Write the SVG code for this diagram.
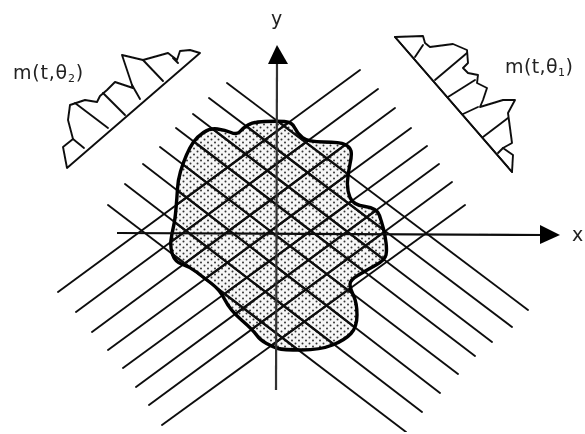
<svg xmlns="http://www.w3.org/2000/svg" width="585" height="434" viewBox="0 0 585 434">
<style>
.h{stroke:#111;stroke-width:1.9;fill:none;stroke-linecap:round}
.p{stroke:#111;stroke-width:1.9;fill:none;stroke-linejoin:round;stroke-linecap:round}
.t{font-family:"DejaVu Sans",Verdana,sans-serif;font-size:19px;fill:#222;letter-spacing:.8px}
.s{font-size:11px}
</style>
<defs>
<pattern id="dots" width="7" height="6" patternUnits="userSpaceOnUse">
<rect width="7" height="6" fill="#f6f6f6"/>
<circle cx="1.5" cy="1.5" r="1" fill="#333"/>
<circle cx="5" cy="4.5" r="1" fill="#333"/>
</pattern>
<path id="shape" d="M284.5 121.5Q292 122 294.5 127.5Q297 133 302.5 137.5Q308 142 324 142Q340 142 345 144.5Q350 147 351 151Q352 155 350 164Q348 173 347.5 181.5Q347 190 350 197.5Q353 205 365 206.5Q377 208 379.5 215.5Q382 223 383.5 229Q385 235 386 242.5Q387 250 386 255Q385 260 376 265Q367 270 358.5 275Q350 280 350 284Q350 288 353.5 295.5Q357 303 357 315Q357 327 351 333.5Q345 340 332.5 345Q320 350 301.5 350Q283 350 278 348.5Q273 347 266.5 343.5Q260 340 256.5 335Q253 330 241.5 320Q230 310 225 300Q220 290 211.5 283.5Q203 277 196.5 272Q190 267 182.5 264.5Q175 262 172.5 254.5Q170 247 171 240Q172 233 173.5 226.5Q175 220 176 208.5Q177 197 177.5 188.5Q178 180 180.5 171.5Q183 163 186.5 155Q190 147 193.5 142Q197 137 203.5 132.5Q210 128 217.5 129Q225 130 231 132.5Q237 135 240 131.5Q243 128 248 125Q253 122 265 121.5Q277 121 284.5 121.5Z"/>
<clipPath id="inside"><use href="#shape"/></clipPath>
<g id="scan">
<line x1="58" y1="292" x2="360" y2="70"/>
<line x1="76" y1="312" x2="378" y2="89"/>
<line x1="92" y1="332" x2="395" y2="108"/>
<line x1="108" y1="350" x2="411" y2="128"/>
<line x1="123" y1="368" x2="427" y2="146"/>
<line x1="136" y1="387" x2="439" y2="164"/>
<line x1="149" y1="405" x2="452" y2="182"/>
<line x1="162" y1="425" x2="465" y2="205"/>
<line x1="227" y1="83" x2="528" y2="310"/>
<line x1="209" y1="98" x2="512" y2="327"/>
<line x1="193" y1="114" x2="492" y2="342"/>
<line x1="176" y1="128" x2="475" y2="356"/>
<line x1="160" y1="147" x2="458" y2="374"/>
<line x1="143" y1="164" x2="440" y2="393"/>
<line x1="125" y1="184" x2="422" y2="412"/>
<line x1="108" y1="205" x2="406" y2="432"/>
</g>
<filter id="soft" x="0" y="0" width="1" height="1"><feGaussianBlur stdDeviation="0.6"/></filter>
</defs>
<rect width="585" height="434" fill="#fff"/>
<g filter="url(#soft)">
<use id="blob-fill" href="#shape" fill="url(#dots)"/>
<g id="connectors">
<use href="#scan" class="h"/>
<g clip-path="url(#inside)"><use href="#scan" class="h" style="stroke-width:2.3"/></g>
</g>
<use id="blob-outline" href="#shape" fill="none" stroke="#000" stroke-width="3.4" stroke-linejoin="round"/>
<g id="axes">
<line x1="117" y1="233" x2="545" y2="235" stroke="#111" stroke-width="2.2"/>
<polygon points="560,235 540,225 540,244" fill="#000"/>
<line x1="276" y1="390" x2="277" y2="60" stroke="#333" stroke-width="2.2"/>
<polygon points="277,45 268,64 288,64" fill="#000"/>
</g>
<g id="profile-2">
<path class="p" d="M67 168L63 147L73 139L68 120L70 105L85 100L97 102L100 96L107 90L115 82L133 88L128 73L122 55L143 60L168 53L177 60L180 51L190 50L200 53Z"/>
<line class="h" x1="73" y1="139" x2="84" y2="148"/>
<line class="h" x1="75" y1="103" x2="108" y2="128"/>
<line class="h" x1="103" y1="93" x2="125" y2="115"/>
<line class="h" x1="132" y1="85" x2="140" y2="99"/>
<line class="h" x1="143" y1="60" x2="163" y2="81"/>
<line class="h" x1="173" y1="58" x2="178" y2="63"/>
</g>
<g id="profile-1">
<path class="p" d="M395 37L423 36L425 43L430 47L453 44L467 50L468 63L463 68L468 73L478 75L477 83L487 88L483 100L480 107L503 100L515 100L508 113L512 143L503 148L513 155L512 172Z"/>
<line class="h" x1="395" y1="37" x2="512" y2="172"/>
<line class="h" x1="423" y1="45" x2="415" y2="57"/>
<line class="h" x1="467" y1="53" x2="435" y2="80"/>
<line class="h" x1="475" y1="80" x2="448" y2="97"/>
<line class="h" x1="478" y1="107" x2="463" y2="114"/>
<line class="h" x1="508" y1="118" x2="483" y2="137"/>
<line class="h" x1="503" y1="148" x2="498" y2="153"/>
</g>
<g id="labels">
<text class="t" x="13" y="79">m(t,θ<tspan class="s" dy="3">2</tspan><tspan dy="-3">)</tspan></text>
<text class="t" x="505" y="73" style="letter-spacing:.4px">m(t,θ<tspan class="s" dy="3">1</tspan><tspan dy="-3">)</tspan></text>
<text class="t" x="271" y="25">y</text>
<text class="t" x="572" y="241">x</text>
</g>
</g>
</svg>
